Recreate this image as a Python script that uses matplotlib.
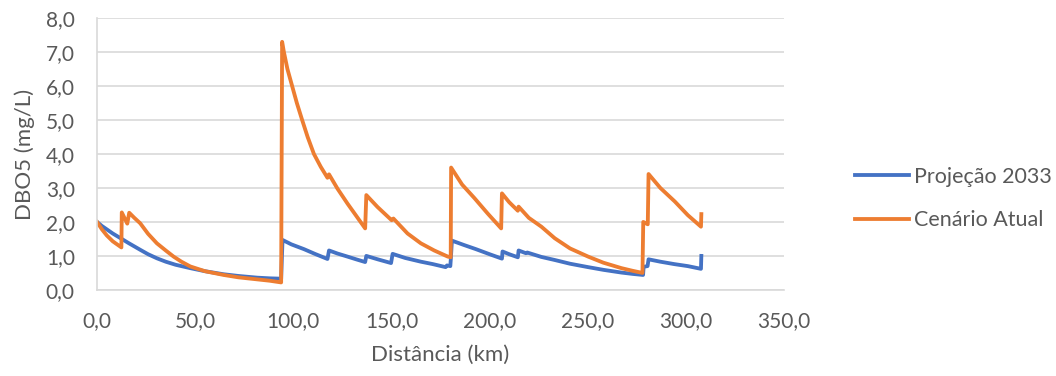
import matplotlib.pyplot as plt
from matplotlib.ticker import FuncFormatter

# data
dist_atual = [0, 2.5, 5, 8, 12.4, 12.6, 15.4, 16.4, 19, 22, 26, 30.5, 35, 39, 43,
              47.5, 55, 64.5, 72, 81.6, 88, 93.8, 94.3, 95.2, 97, 99.4, 101.8, 104.5,
              107.3, 110.5, 114, 117.4, 118.2, 122.5, 127.6, 131.8, 136.6, 137.2,
              142.9, 150.1, 151, 158.2, 165, 171.8, 178.7, 180.2, 180.4, 186, 192.3,
              199, 205.9, 206.3, 210, 214.4, 214.8, 220, 226.4, 233.2, 241, 250.2,
              258, 267.2, 273, 277.9, 278.3, 280.6, 281.0, 287, 294.4, 301, 307.7, 307.9]
dbo_atual = [2.00, 1.78, 1.60, 1.43, 1.25, 2.28, 1.95, 2.27, 2.12, 1.96, 1.65, 1.37,
             1.16, 0.98, 0.83, 0.69, 0.55, 0.44, 0.37, 0.31, 0.27, 0.22, 7.30, 7.00,
             6.50, 6.00, 5.50, 5.00, 4.50, 4.00, 3.62, 3.30, 3.40, 2.98, 2.54, 2.20,
             1.81, 2.79, 2.44, 2.05, 2.10, 1.66, 1.37, 1.16, 0.98, 0.96, 3.60, 3.10,
             2.70, 2.25, 1.81, 2.84, 2.58, 2.33, 2.45, 2.12, 1.86, 1.52, 1.22, 0.98,
             0.80, 0.64, 0.56, 0.50, 2.00, 1.93, 3.41, 3.00, 2.60, 2.20, 1.86, 2.23]

dist_2033 = [0, 2.5, 5, 8, 12.6, 16, 22, 26, 30.5, 35, 40, 47.5, 55, 64.5, 72, 81.6,
             88, 93.8, 94.5, 99, 105.4, 111, 117.4, 118.2, 122.5, 127.6, 132, 136.6,
             137.2, 143, 149.8, 150.6, 157, 165, 171, 177.6, 178.3, 180.0, 180.3,
             180.8, 187, 193, 200, 206.3, 206.6, 210, 214.4, 214.8, 218.5, 219.2,
             226.4, 233.2, 241, 250.2, 258, 267.2, 273, 278.2, 278.5, 280.5, 281.0,
             287, 294, 301, 307.7, 307.9]
dbo_2033 = [2.00, 1.88, 1.78, 1.66, 1.50, 1.38, 1.18, 1.05, 0.93, 0.83, 0.74, 0.64,
            0.55, 0.46, 0.41, 0.36, 0.34, 0.33, 1.47, 1.34, 1.20, 1.06, 0.91, 1.16,
            1.07, 0.98, 0.90, 0.82, 1.00, 0.90, 0.79, 1.06, 0.94, 0.83, 0.76, 0.67,
            0.72, 0.70, 0.95, 1.45, 1.32, 1.20, 1.05, 0.92, 1.13, 1.05, 0.96, 1.16,
            1.08, 1.10, 0.97, 0.88, 0.77, 0.67, 0.59, 0.51, 0.47, 0.44, 0.68, 0.70,
            0.90, 0.83, 0.76, 0.70, 0.62, 1.00]

labels = ['Projeção 2033', 'Cenário Atual']
colors = ['#4472C4', '#ED7D31']

plt.rcParams['font.family'] = ['Lato', 'DejaVu Sans']
grey = '#595959'

fig = plt.figure(figsize=(10.56, 3.76), dpi=100)
ax = fig.add_axes([0.0919, 0.229, 0.6505, 0.723])

ax.plot(dist_2033, dbo_2033, color=colors[0], lw=2.75, label=labels[0],
        solid_joinstyle='round')
ax.plot(dist_atual, dbo_atual, color=colors[1], lw=2.75, label=labels[1],
        solid_joinstyle='round')

# axes
ax.set_xlim(0, 350)
ax.set_ylim(0, 8)
ax.set_xticks(range(0, 351, 50))
ax.set_yticks(range(0, 9))
fmt = FuncFormatter(lambda v, p: ('%.1f' % v).replace('.', ','))
ax.xaxis.set_major_formatter(fmt)
ax.yaxis.set_major_formatter(fmt)
ax.tick_params(length=0, labelsize=15, colors=grey)
ax.tick_params(axis='x', pad=15)
ax.tick_params(axis='y', pad=16)
ax.grid(axis='y', color='#D9D9D9', lw=1.2)
ax.set_axisbelow(True)
for s in ['top', 'right']:
    ax.spines[s].set_visible(False)
for s in ['left', 'bottom']:
    ax.spines[s].set_color('#D9D9D9')
    ax.spines[s].set_linewidth(1.2)

ax.set_xlabel('Distância (km)', fontsize=16, color=grey, labelpad=10)
ax.set_ylabel('DBO5 (mg/L)', fontsize=16, color=grey, labelpad=8)

# legend
fig.legend(loc='center left', bbox_to_anchor=(0.8097, 0.4723), frameon=False,
           fontsize=15.5, handlelength=2.5, handletextpad=0.25, labelspacing=1.1,
           borderpad=0, borderaxespad=0, labelcolor=grey)

plt.savefig('out.png', dpi=100)
